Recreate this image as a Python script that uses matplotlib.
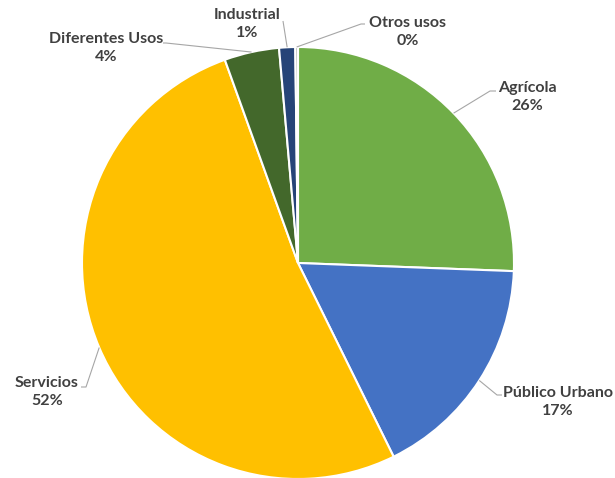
import matplotlib
matplotlib.use("Agg")
import matplotlib.pyplot as plt
import numpy as np

# uso del agua (%), clockwise from the top
categories = ["Agrícola", "Público Urbano", "Servicios", "Diferentes Usos", "Industrial", "Otros usos"]
shares = [25.6, 17.1, 51.8, 4.1, 1.2, 0.2]
colors = ["#70AD47", "#4472C4", "#FFC000", "#43682B", "#264478", "#A5A5A5"]

W, H = 615, 478
CX, CY, R = 298, 263, 216  # pie centre / radius in pixels

# label block centres and leader elbows/ends (pixels, from top-left)
label_pos = [(527, 97), (558, 402), (47, 392), (106, 48), (247, 24), (408, 32)]
leader_pts = [
    [(490, 91), (496, 91)],
    [(497, 395), (502, 395)],
    [(86, 387), (81, 387)],
    [(166, 43), (163, 43)],
    [(283, 21), (283, 21)],
    [(361, 24), (365, 24)],
]


def px(p):
    return ((p[0] - CX) / R, (CY - p[1]) / R)


fig = plt.figure(figsize=(W / 100, H / 100), dpi=100)
ax = fig.add_axes([0, 0, 1, 1])
wedges, _ = ax.pie(shares, colors=colors, startangle=90, counterclock=False,
                   radius=1, wedgeprops=dict(edgecolor="white", linewidth=1.5))
ax.set_xlim(-CX / R, (W - CX) / R)
ax.set_ylim(-(H - CY) / R, CY / R)
ax.set_aspect("equal")
ax.axis("off")

for w, name, val, lp, pts in zip(wedges, categories, shares, label_pos, leader_pts):
    mid = np.deg2rad((w.theta1 + w.theta2) / 2)
    start = (np.cos(mid), np.sin(mid))
    line = [start] + [px(p) for p in pts]
    xs, ys = zip(*line)
    ax.plot(xs, ys, color="#A6A6A6", lw=0.8, solid_capstyle="butt", zorder=1)
    tx, ty = px(lp)
    ax.text(tx, ty, f"{name}\n{val:.0f}%", ha="center", va="center",
            fontsize=11.5, fontweight="bold", family="Lato", color="#404040",
            linespacing=1.45)

fig.savefig("out.png", dpi=100)
